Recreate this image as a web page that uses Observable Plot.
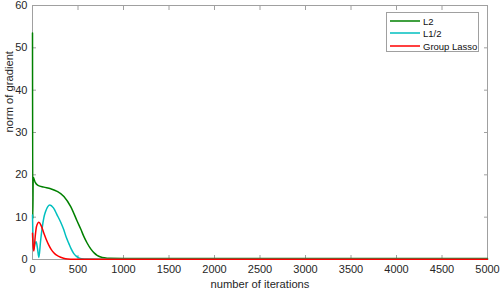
<!DOCTYPE html>
<html>
<head>
<meta charset="utf-8">
<script src="https://cdn.jsdelivr.net/npm/d3@7"></script>
<script src="https://cdn.jsdelivr.net/npm/@observablehq/plot@0.6"></script>
<style>
  html, body { margin: 0; padding: 0; background: #fff; }
  #wrap { position: relative; width: 500px; height: 293px; font-family: "Liberation Sans", Arial, sans-serif; }
  #legend { position: absolute; left: 386px; top: 12px; width: 93px; height: 40px; border: 1px solid #a0a0a0; background: #fff; box-sizing: border-box; font-size: 9.5px; color: #111; }
  #legend .row { position: absolute; left: 0; height: 12px; white-space: nowrap; display: flex; align-items: center; }
  #legend svg { display: block; flex: none; margin-left: 3px; margin-right: 3px; }
</style>
</head>
<body>
<div id="wrap"></div>
<script>
// ---- data ----
const seriesNames = ["L2", "L1/2", "Group Lasso"];
const seriesColors = ["#008000", "#00bfbf", "#ff0000"];

const l2Iter = [0, 3, 8, 30, 60, 125, 200, 270, 345, 420, 490, 530, 565, 600, 640, 680, 710, 750, 790, 850, 1000, 2000, 3000, 4000, 5000];
const l2Norm = [53.5, 9.6, 19.4, 18.2, 17.5, 17.1, 16.7, 16.1, 14.9, 12.5, 9.1, 7.2, 5.4, 3.9, 2.5, 1.5, 1.0, 0.6, 0.4, 0.27, 0.24, 0.24, 0.24, 0.24, 0.24];

const l12Iter = [0, 4, 10, 25, 40, 55, 70, 88, 106, 125, 143, 168, 190, 230, 271, 310, 344, 370, 399, 425, 454, 480, 509, 540, 600, 1000, 5000];
const l12Norm = [10.5, 6.0, 2.2, 3.6, 4.2, 2.6, 0.5, 4.2, 7.4, 9.9, 11.3, 12.5, 12.9, 12.2, 10.5, 8.8, 7.0, 5.3, 3.8, 2.5, 1.4, 0.8, 0.4, 0.2, 0.1, 0.08, 0.08];

const glIter = [0, 6, 15, 30, 44, 70, 95, 125, 150, 179, 205, 234, 260, 289, 325, 363, 420, 500, 1000, 5000];
const glNorm = [6.2, 3.5, 2.0, 5.5, 7.8, 8.8, 8.0, 6.2, 4.8, 3.4, 2.4, 1.6, 1.1, 0.75, 0.4, 0.2, 0.08, 0.04, 0.03, 0.03];

const xTicks = [0, 500, 1000, 1500, 2000, 2500, 3000, 3500, 4000, 4500, 5000];
const yTicks = [0, 10, 20, 30, 40, 50, 60];
const xLabel = "number of iterations";
const yLabel = "norm of gradient";

// ---- build table ----
const rows = [];
[[l2Iter, l2Norm], [l12Iter, l12Norm], [glIter, glNorm]].forEach(([xs, ys], i) => {
  xs.forEach((x, j) => rows.push({series: seriesNames[i], iter: x, norm: ys[j]}));
});

const gray = "#a0a0a0";
const plain = d => String(d);
const chart = Plot.plot({
  width: 500,
  height: 293,
  marginLeft: 32,
  marginRight: 13,
  marginTop: 5,
  marginBottom: 34,
  style: {fontFamily: "'Liberation Sans', Arial, sans-serif", fontSize: "11px", color: "#262626", background: "#fff"},
  x: {domain: [0, 5000], axis: null},
  y: {domain: [0, 60], axis: null},
  color: {domain: seriesNames, range: seriesColors},
  marks: [
    Plot.frame({stroke: gray, strokeWidth: 1}),
    Plot.axisX(xTicks, {anchor: "bottom", tickSize: -4, tickFormat: () => "", stroke: gray, label: null}),
    Plot.axisX(xTicks, {anchor: "top", tickSize: -4, tickFormat: () => "", stroke: gray, label: null}),
    Plot.axisY(yTicks, {anchor: "left", tickSize: -4, tickFormat: () => "", stroke: gray, label: null}),
    Plot.axisY(yTicks, {anchor: "right", tickSize: -4, tickFormat: () => "", stroke: gray, label: null}),
    Plot.line(rows, {x: "iter", y: "norm", stroke: "series", z: "series", strokeWidth: 1.5, curve: "monotone-x"}),
    Plot.axisX(xTicks, {anchor: "bottom", tickSize: 0, tickPadding: 6, tickFormat: plain, label: null, fill: "#262626"}),
    Plot.axisY(yTicks, {anchor: "left", tickSize: 0, tickPadding: 5, tickFormat: plain, label: null, fill: "#262626"}),
    Plot.text([xLabel], {frameAnchor: "bottom", dy: 28, fontSize: 11.2, fill: "#262626"}),
    Plot.text([yLabel], {frameAnchor: "left", dx: -23, rotate: -90, fontSize: 11.2, fill: "#262626"})
  ]
});

const wrap = document.getElementById("wrap");
wrap.appendChild(chart);

// legend box inside the plot, top right
const legend = document.createElement("div");
legend.id = "legend";
const rowTops = [2, 14, 27];
const svgNS = "http://www.w3.org/2000/svg";
seriesNames.forEach((name, i) => {
  const r = document.createElement("div");
  r.className = "row";
  r.style.top = rowTops[i] + "px";
  const sw = document.createElementNS(svgNS, "svg");
  sw.setAttribute("width", "30");
  sw.setAttribute("height", "4");
  const ln = document.createElementNS(svgNS, "line");
  ln.setAttribute("x1", "0"); ln.setAttribute("x2", "30");
  ln.setAttribute("y1", "2"); ln.setAttribute("y2", "2");
  ln.setAttribute("stroke", seriesColors[i]);
  ln.setAttribute("stroke-width", "1.5");
  sw.appendChild(ln);
  const t = document.createElement("span");
  t.textContent = name;
  r.appendChild(sw);
  r.appendChild(t);
  legend.appendChild(r);
});
wrap.appendChild(legend);
</script>
</body>
</html>
